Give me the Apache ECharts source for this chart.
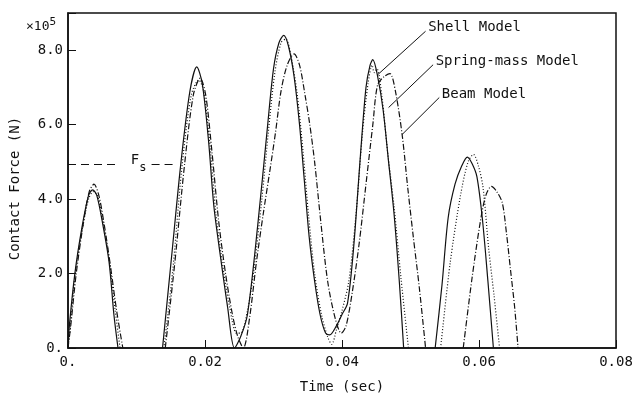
<!DOCTYPE html>
<html>
<head>
<meta charset="utf-8">
<script src="https://cdn.jsdelivr.net/npm/echarts@6/dist/echarts.min.js"></script>
<style>
  html, body { margin: 0; padding: 0; background: #fff; }
  #chart { width: 636px; height: 399px; }
</style>
</head>
<body>
<div id="chart"></div>
<script>
// time (sec) and contact force (x10^5 N); null = break between contacts
const shellTime = [0, 0.0002, 0.001, 0.002, 0.003, 0.0036, 0.0042, 0.005, 0.006, 0.0067, 0.0073, null,
  0.0138, 0.0152, 0.0165, 0.0178, 0.0188, 0.0196, 0.0205, 0.0213, 0.0223, 0.0233, 0.0243,
  0.0252, 0.0262, 0.0277, 0.0291, 0.0300, 0.0308, 0.0315, 0.0322, 0.0330, 0.0338, 0.0345, 0.0352, 0.0360, 0.0368, 0.0376, 0.0382,
  0.0392, 0.0400, 0.0408, 0.0417, 0.0427, 0.0435, 0.0441, 0.0445, 0.0452, 0.0460, 0.0468, 0.0476, 0.0484, 0.0490, null,
  0.0536, 0.0546, 0.0555, 0.0565, 0.0575, 0.0583, 0.0590, 0.0597, 0.0605, 0.0613, 0.0621];
const shellForce = [0, 0.6, 2.0, 3.2, 4.1, 4.25, 4.1, 3.4, 2.3, 0.9, 0, null,
  0, 2.6, 5.0, 6.9, 7.55, 7.1, 5.6, 3.8, 2.4, 1.1, 0,
  0.3, 0.9, 3.3, 5.9, 7.5, 8.2, 8.4, 8.1, 7.3, 6.0, 4.5, 3.0, 1.8, 0.9, 0.4, 0.35,
  0.6, 0.9, 1.2, 2.7, 5.2, 7.0, 7.6, 7.75, 7.3, 6.4, 5.0, 3.6, 1.7, 0, null,
  0, 1.7, 3.5, 4.4, 4.9, 5.13, 4.95, 4.6, 3.46, 1.8, 0];

const springTime = [0, 0.0003, 0.001, 0.002, 0.003, 0.0037, 0.0043, 0.005, 0.006, 0.0069, 0.0076, null,
  0.0140, 0.0153, 0.0166, 0.0180, 0.0191, 0.0198, 0.0207, 0.0216, 0.0226, 0.0236, 0.0246, 0.0252,
  0.0262, 0.0272, 0.0283, 0.0293, 0.0302, 0.0311, 0.0318, 0.0325, 0.0334, 0.0343, 0.0351, 0.0360, 0.0370, 0.0379, 0.0385,
  0.0392, 0.0400, 0.0410, 0.0420, 0.0430, 0.0438, 0.0444, 0.0447, 0.0451, 0.0458, 0.0467, 0.0476, 0.0486, 0.0497, null,
  0.0544, 0.0558, 0.0573, 0.0584, 0.0592, 0.0599, 0.0606, 0.0614, 0.0622, 0.0630];
const springForce = [0, 0.5, 1.9, 3.1, 4.0, 4.2, 4.1, 3.5, 2.4, 1.0, 0, null,
  0, 2.1, 4.8, 6.8, 7.2, 6.9, 5.5, 3.6, 2.2, 1.1, 0.4, 0.4,
  1.0, 2.2, 4.0, 5.9, 7.4, 8.2, 8.3, 7.9, 6.9, 5.3, 3.6, 2.0, 0.9, 0.3, 0.1,
  0.5, 1.0, 1.8, 3.5, 5.8, 7.1, 7.6, 7.4, 7.5, 6.8, 5.2, 3.8, 1.9, 0, null,
  0, 2.3, 4.1, 5.0, 5.2, 4.9, 4.3, 2.7, 1.4, 0];

const beamTime = [0, 0.0004, 0.0012, 0.0022, 0.0031, 0.0038, 0.0045, 0.0053, 0.0062, 0.0071, 0.0080, null,
  0.0142, 0.0156, 0.0170, 0.0183, 0.0193, 0.0201, 0.0210, 0.0220, 0.0230, 0.0240, 0.0248, 0.0256,
  0.0265, 0.0275, 0.0285, 0.0295, 0.0303, 0.0311, 0.0320, 0.0330, 0.0338, 0.0346, 0.0353, 0.0360, 0.0369, 0.0379, 0.0390, 0.0399,
  0.0406, 0.0415, 0.0425, 0.0435, 0.0445, 0.0452, 0.0462, 0.0470, 0.0478, 0.0488, 0.0496, 0.0504, 0.0513, 0.0522, null,
  0.0577, 0.0590, 0.0602, 0.0610, 0.0618, 0.0626, 0.0634, 0.0640, 0.0646, 0.0652, 0.0657];
const beamForce = [0, 0.6, 2.0, 3.3, 4.2, 4.4, 4.1, 3.3, 2.2, 1.0, 0, null,
  0, 2.3, 4.9, 6.8, 7.25, 6.8, 5.3, 3.4, 2.0, 0.9, 0.3, 0,
  0.8, 2.3, 3.6, 4.8, 5.8, 6.9, 7.6, 7.9, 7.6, 6.8, 6.0, 5.0, 3.4, 1.8, 0.8, 0.4,
  0.6, 1.5, 2.8, 4.4, 6.0, 7.07, 7.3, 7.37, 6.9, 5.7, 4.3, 3.0, 1.6, 0, null,
  0, 1.9, 3.4, 4.1, 4.34, 4.2, 3.9, 3.1, 2.1, 1.1, 0];

const xTicks = [0, 0.02, 0.04, 0.06, 0.08];
const yTicks = [0, 2, 4, 6, 8];
const fsLevel = 4.95;   // F_s threshold
const fsEnd = 0.0153;

const font = 'DejaVu Sans Mono';
const ink = '#111';

const zip = (t, f) => t.map((v, i) => (v === null ? '-' : [v, f[i]]));

const leader = (from, to) => [
  { coord: from, symbol: 'none' },
  { coord: to, symbol: 'none' }
];
const tag = (at, text) => ({
  coord: at,
  label: { show: true, formatter: text, position: 'right', distance: 0,
    fontFamily: font, fontSize: 14, color: ink }
});

const chart = echarts.init(document.getElementById('chart'));
chart.setOption({
  animation: false,
  backgroundColor: '#fff',
  grid: { left: 67, right: 20, top: 13, bottom: 46, show: true, borderColor: ink, borderWidth: 1.5 },
  graphic: [{
    type: 'text', left: 26, top: 17,
    style: {
      text: '{a|×10}{b|5}',
      rich: {
        a: { fontFamily: font, fontSize: 13, fill: ink, lineHeight: 16, verticalAlign: 'bottom' },
        b: { fontFamily: font, fontSize: 11, fill: ink, lineHeight: 16, verticalAlign: 'top' }
      }
    }
  }],
  xAxis: {
    type: 'value', min: 0, max: 0.08, interval: 0.02,
    name: 'Time (sec)', nameLocation: 'middle', nameGap: 32,
    nameTextStyle: { fontFamily: font, fontSize: 14, color: ink },
    axisLine: { lineStyle: { color: ink, width: 1.5 } },
    axisTick: { inside: true, length: 8, lineStyle: { color: ink } },
    axisLabel: {
      margin: 7, fontFamily: font, fontSize: 14, color: ink,
      formatter: v => (xTicks.indexOf(v) < 0 ? '' : (v === 0 ? '0.' : v.toFixed(2)))
    },
    splitLine: { show: false }
  },
  yAxis: {
    type: 'value', min: 0, max: 9, interval: 2,
    name: 'Contact Force (N)', nameLocation: 'middle', nameGap: 46,
    nameTextStyle: { fontFamily: font, fontSize: 14, color: ink, padding: [0, 16, 0, 0] },
    axisLine: { lineStyle: { color: ink, width: 1.5 } },
    axisTick: { inside: true, length: 8, lineStyle: { color: ink } },
    axisLabel: {
      margin: 5, fontFamily: font, fontSize: 14, color: ink,
      formatter: v => (yTicks.indexOf(v) < 0 ? '' : (v === 0 ? '0.' : v.toFixed(1)))
    },
    splitLine: { show: false }
  },
  series: [
    {
      name: 'Shell Model', type: 'line', data: zip(shellTime, shellForce),
      smooth: 0.3, showSymbol: false, silent: true, connectNulls: false,
      lineStyle: { color: ink, width: 1.2 },
      markLine: {
        silent: true, symbol: 'none', label: { show: false },
        lineStyle: { color: ink, width: 1, type: 'solid' },
        data: [
          leader([0.0522, 8.51], [0.0452, 7.34]),
          leader([0.0533, 7.61], [0.0468, 6.46]),
          leader([0.0542, 6.73], [0.0488, 5.74]),
          [{ coord: [0, fsLevel], lineStyle: { type: [8, 5], width: 1.2 } }, { coord: [0.0075, fsLevel] }],
          [{ coord: [0.0122, fsLevel], lineStyle: { type: [8, 5], width: 1.2 } }, { coord: [fsEnd, fsLevel] }]
        ]
      },
      markPoint: {
        silent: true, symbol: 'circle', symbolSize: 1,
        itemStyle: { color: 'rgba(0,0,0,0)' },
        data: [
          tag([0.0525, 8.62], 'Shell Model'),
          tag([0.0536, 7.71], 'Spring-mass Model'),
          tag([0.0545, 6.81], 'Beam Model'),
          {
            coord: [0.0091, fsLevel],
            label: {
              show: true, position: 'right', distance: 0,
              formatter: '{f|F}{s|s}',
              rich: {
                f: { fontFamily: font, fontSize: 14, color: ink, lineHeight: 20, verticalAlign: 'top' },
                s: { fontFamily: font, fontSize: 12, color: ink, lineHeight: 20, verticalAlign: 'bottom' }
              }
            }
          }
        ]
      }
    },
    {
      name: 'Spring-mass Model', type: 'line', data: zip(springTime, springForce),
      smooth: 0.3, showSymbol: false, silent: true, connectNulls: false,
      lineStyle: { color: ink, width: 1.2, type: [1, 2] }
    },
    {
      name: 'Beam Model', type: 'line', data: zip(beamTime, beamForce),
      smooth: 0.3, showSymbol: false, silent: true, connectNulls: false,
      lineStyle: { color: ink, width: 1.2, type: [6, 2, 1, 2] }
    }
  ]
});
</script>
</body>
</html>
